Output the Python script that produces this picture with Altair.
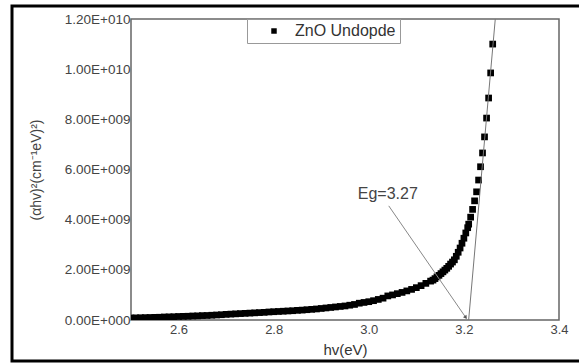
import altair as alt
import pandas as pd

# ---- data ----
hv = [2.50, 2.51, 2.52, 2.53, 2.54, 2.55, 2.56, 2.57, 2.58, 2.59,
      2.60, 2.61, 2.62, 2.63, 2.64, 2.65, 2.66, 2.67, 2.68, 2.69,
      2.70, 2.71, 2.72, 2.73, 2.74, 2.75, 2.76, 2.77, 2.78, 2.79,
      2.80, 2.81, 2.82, 2.83, 2.84, 2.85, 2.86, 2.87, 2.88, 2.89,
      2.90, 2.91, 2.92, 2.93, 2.94, 2.95, 2.96, 2.97, 2.98, 2.99,
      3.00, 3.01, 3.02, 3.03, 3.04, 3.05, 3.06, 3.07, 3.08, 3.09,
      3.10, 3.11, 3.12, 3.13,
      3.1350, 3.1392, 3.1434, 3.1476, 3.1518, 3.1560, 3.1600, 3.1640,
      3.1680, 3.1720, 3.1760, 3.1800, 3.1840, 3.1880, 3.1920, 3.1960,
      3.2000, 3.2040, 3.2080, 3.2101, 3.2142, 3.2183, 3.2225, 3.2267,
      3.2309, 3.2350, 3.2392, 3.2434, 3.2477, 3.2520, 3.2563, 3.2606]
alpha_hv_sq_e8 = [0.8, 0.85, 0.9, 0.95, 1.0, 1.05, 1.1, 1.2, 1.25, 1.3,
                  1.4, 1.45, 1.5, 1.6, 1.65, 1.75, 1.8, 1.9, 2.0, 2.1,
                  2.25, 2.35, 2.45, 2.55, 2.65, 2.75, 2.85, 2.95, 3.05, 3.2,
                  3.3, 3.4, 3.5, 3.6, 3.7, 3.85, 3.95, 4.1, 4.25, 4.4,
                  4.6, 4.8, 5.0, 5.2, 5.4, 5.6, 5.9, 6.2, 6.7, 7.0,
                  7.3, 7.7, 8.2, 8.7, 9.6, 10.0, 10.5, 11.0, 11.6, 12.2,
                  12.9, 13.7, 14.6, 15.5,
                  15.9, 16.5, 17.2, 17.8, 18.5, 19.2, 19.9, 20.6,
                  21.4, 22.3, 23.1, 24.0, 25.4, 27.0, 28.7, 30.6,
                  32.6, 34.7, 36.8, 38.2, 41.0, 44.1, 47.5, 51.1,
                  55.8, 61.1, 66.6, 73.0, 80.5, 88.5, 98.5, 110.0]
series_name = "ZnO Undopde"

tangent_x = [3.210, 3.266]
tangent_y = [0.0, 1.2e10]
pointer_x = [3.042, 3.204]
pointer_y = [4.55e9, 0.1e9]
label_x = [3.040]
label_y = [5.02e9]
label_text = ["Eg=3.27"]

x_ticks = [2.6, 2.8, 3.0, 3.2, 3.4]
y_ticks = [0, 2e9, 4e9, 6e9, 8e9, 1e10, 1.2e10]

FONT = "Liberation Sans"

pts = pd.DataFrame({"hv": hv,
                    "val": [v * 1e8 for v in alpha_hv_sq_e8],
                    "series": [series_name] * len(hv)})
tan_df = pd.DataFrame({"hv": tangent_x, "val": tangent_y})
ptr_df = pd.DataFrame({"hv": pointer_x, "val": pointer_y})
lab_df = pd.DataFrame({"hv": label_x, "val": label_y, "t": label_text})
arrow_df = pd.DataFrame({"hv": pointer_x[1:], "val": pointer_y[1:]})

x_scale = alt.Scale(domain=[2.5, 3.4], nice=False, zero=False)
y_scale = alt.Scale(domain=[0, 1.2e10], nice=False)

ylab = ("datum.value == 0 ? '0.00E+000' : "
        "format(datum.value / pow(10, floor(log(datum.value)/LN10 + 1e-9)), '.2f') + 'E+' + "
        "(floor(log(datum.value)/LN10 + 1e-9) < 10 ? '00' : '0') + "
        "floor(log(datum.value)/LN10 + 1e-9)")

x_enc = alt.X("hv:Q", scale=x_scale,
              axis=alt.Axis(title="hv(eV)", values=x_ticks, format=".1f",
                            grid=False, domain=False, ticks=False,
                            labelPadding=3, labelFontSize=13, labelFont=FONT,
                            labelColor="#444", titleFont=FONT, titleFontSize=15,
                            titleFontWeight="normal", titleColor="#333",
                            titlePadding=6, labelFlush=False))
y_enc = alt.Y("val:Q", scale=y_scale,
              axis=alt.Axis(title="(αhv)²(cm⁻¹eV)²)", values=y_ticks,
                            labelExpr=ylab, grid=False, domain=False, ticks=False,
                            labelPadding=1, labelFontSize=13.5, labelFont=FONT,
                            labelColor="#444", titleFont=FONT, titleFontSize=14,
                            titleFontWeight="normal", titleColor="#444",
                            titlePadding=21, labelFlush=False))

points = alt.Chart(pts).mark_square(size=45, opacity=1, clip=True).encode(
    x=x_enc, y=y_enc,
    color=alt.Color("series:N",
                    scale=alt.Scale(range=["black"]),
                    legend=alt.Legend(orient="none", legendX=116, legendY=0,
                                      title=None, direction="horizontal",
                                      strokeColor="#999", padding=4,
                                      symbolType="square", symbolSize=30,
                                      symbolOffset=15, labelOffset=13,
                                      labelFontSize=16, labelFont=FONT,
                                      labelColor="#333", fillColor="white")))

tangent = alt.Chart(tan_df).mark_line(color="#777", strokeWidth=1, clip=True).encode(
    x=alt.X("hv:Q", scale=x_scale), y=alt.Y("val:Q", scale=y_scale))
pointer = alt.Chart(ptr_df).mark_line(color="#888", strokeWidth=1).encode(
    x=alt.X("hv:Q", scale=x_scale), y=alt.Y("val:Q", scale=y_scale))
arrow = alt.Chart(arrow_df).mark_point(shape="triangle-down", filled=True,
                                       color="#555", size=18, angle=325,
                                       opacity=1).encode(
    x=alt.X("hv:Q", scale=x_scale), y=alt.Y("val:Q", scale=y_scale))
label = alt.Chart(lab_df).mark_text(font=FONT, fontSize=16, color="#444").encode(
    x=alt.X("hv:Q", scale=x_scale), y=alt.Y("val:Q", scale=y_scale), text="t:N")

frame = alt.Chart(pd.DataFrame({"a": [0]})).mark_rect(
    fillOpacity=0, stroke="black", strokeWidth=3).encode(
    x=alt.value(-119), x2=alt.value(460), y=alt.value(-13), y2=alt.value(342))

chart = alt.layer(points, tangent, pointer, arrow, label, frame).properties(
    width=428, height=301,
    padding={"left": 131, "top": 19, "right": 20, "bottom": 43},
    autosize=alt.AutoSizeParams(type="none"),
    background="white",
).configure_view(stroke="#666", strokeWidth=1.5)

chart.save("out.html", embed_options={"renderer": "svg", "actions": False})
